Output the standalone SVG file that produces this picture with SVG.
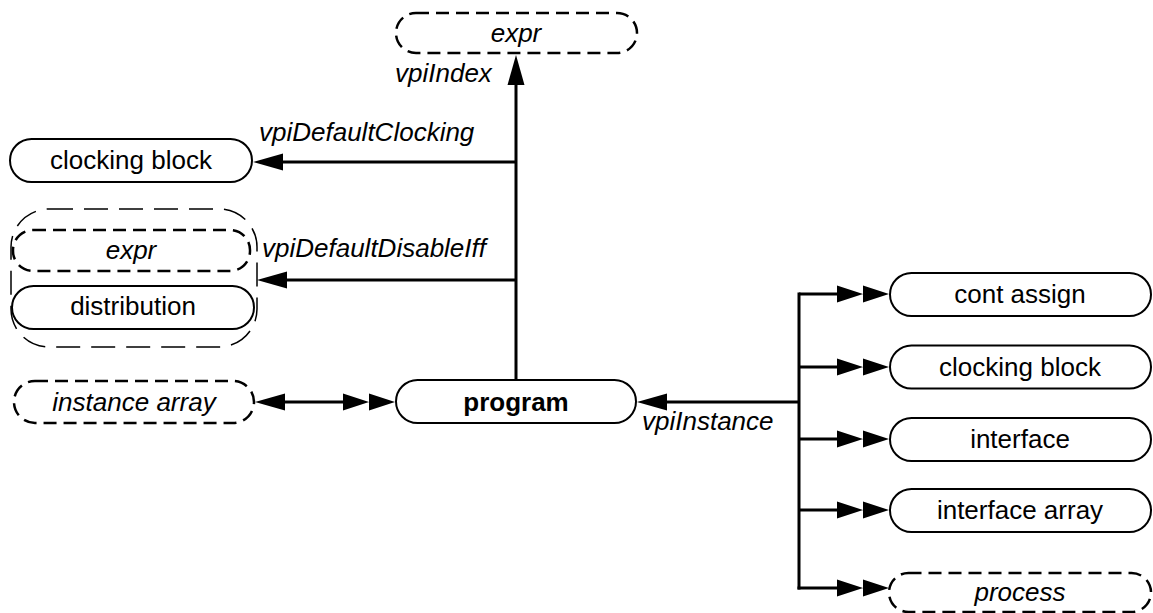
<svg xmlns="http://www.w3.org/2000/svg" width="1153" height="613" viewBox="0 0 1153 613">
<style>
  .node{fill:#fff;stroke:#000;stroke-width:2}
  .dash{fill:#fff;stroke:#000;stroke-width:2.5;stroke-dasharray:13,7}
  .group{fill:none;stroke:#000;stroke-width:1.5;stroke-dasharray:24,11}
  .t{font-family:"Liberation Sans",Arial,Helvetica,sans-serif;font-size:26px;fill:#000;text-anchor:middle}
  .i{font-style:italic}
  .b{font-weight:bold}
  .lbl{font-family:"Liberation Sans",Arial,Helvetica,sans-serif;font-size:26px;font-style:italic;fill:#000}
  .c{fill:none;stroke:#000;stroke-width:3}
  .h{fill:#000;stroke:none}
</style>
<defs>
  <marker id="s" markerUnits="userSpaceOnUse" orient="auto-start-reverse" refX="0" refY="0" markerWidth="40" markerHeight="20" viewBox="0 -10 40 20" overflow="visible">
    <path class="h" d="M0,-8.5 L30,0 L0,8.5 Z"/>
  </marker>
  <marker id="d" markerUnits="userSpaceOnUse" orient="auto-start-reverse" refX="0" refY="0" markerWidth="60" markerHeight="20" viewBox="0 -10 60 20" overflow="visible">
    <path class="h" d="M0,-8.5 L26,0 L0,8.5 Z M26,-8.5 L52,0 L26,8.5 Z"/>
  </marker>
</defs>

<g id="connectors">
  <line class="c" x1="516" y1="381" x2="516" y2="85" marker-end="url(#s)"/>
  <line class="c" x1="516" y1="162" x2="283" y2="162" marker-end="url(#s)"/>
  <line class="c" x1="516" y1="280" x2="287" y2="280" marker-end="url(#s)"/>
  <line class="c" x1="285" y1="402" x2="343" y2="402" marker-start="url(#s)" marker-end="url(#d)"/>
  <line class="c" x1="799" y1="402" x2="667" y2="402" marker-end="url(#s)"/>
  <line class="c" x1="799" y1="292.5" x2="799" y2="589.5"/>
  <line class="c" x1="799" y1="294" x2="837" y2="294" marker-end="url(#d)"/>
  <line class="c" x1="799" y1="367" x2="837" y2="367" marker-end="url(#d)"/>
  <line class="c" x1="799" y1="439" x2="837" y2="439" marker-end="url(#d)"/>
  <line class="c" x1="799" y1="510" x2="837" y2="510" marker-end="url(#d)"/>
  <line class="c" x1="797.5" y1="588" x2="837" y2="588" marker-end="url(#d)"/>
  <text class="lbl" x="395" y="82">vpiIndex</text>
  <text class="lbl" x="259" y="141">vpiDefaultClocking</text>
  <text class="lbl" x="262" y="257">vpiDefaultDisableIff</text>
  <text class="lbl" x="642" y="430">vpiInstance</text>
</g>

<g id="expr_top">
  <rect class="dash" x="396" y="13" width="241" height="40" rx="20"/>
  <text class="t i" x="516" y="42">expr</text>
</g>
<g id="clocking_block_left">
  <rect class="node" x="10" y="139" width="242" height="43" rx="21.5"/>
  <text class="t" x="131" y="169">clocking block</text>
</g>
<g id="disable_group">
  <rect class="group" x="11" y="209" width="246" height="138" rx="38"/>
  <g id="expr_left">
    <rect class="dash" x="13" y="230" width="237" height="41" rx="20"/>
    <text class="t i" x="131" y="259">expr</text>
  </g>
  <g id="distribution">
    <rect class="node" x="12" y="286" width="242" height="43" rx="21.5"/>
    <text class="t" x="133" y="315">distribution</text>
  </g>
</g>
<g id="instance_array">
  <rect class="dash" x="14" y="381" width="240" height="42" rx="21"/>
  <text class="t i" x="134" y="411">instance array</text>
</g>
<g id="program">
  <rect class="node" x="396" y="380" width="240" height="43" rx="21.5"/>
  <text class="t b" x="516" y="411">program</text>
</g>
<g id="cont_assign">
  <rect class="node" x="890" y="273" width="261" height="43" rx="21.5"/>
  <text class="t" x="1020" y="303">cont assign</text>
</g>
<g id="clocking_block_right">
  <rect class="node" x="890" y="345.5" width="261" height="43" rx="21.5"/>
  <text class="t" x="1020" y="376">clocking block</text>
</g>
<g id="interface">
  <rect class="node" x="890" y="418" width="261" height="43" rx="21.5"/>
  <text class="t" x="1020" y="448">interface</text>
</g>
<g id="interface_array">
  <rect class="node" x="890" y="489" width="261" height="43" rx="21.5"/>
  <text class="t" x="1020" y="519">interface array</text>
</g>
<g id="process">
  <rect class="dash" x="889" y="573" width="262" height="39" rx="19.5"/>
  <text class="t i" x="1020" y="601">process</text>
</g>
</svg>
